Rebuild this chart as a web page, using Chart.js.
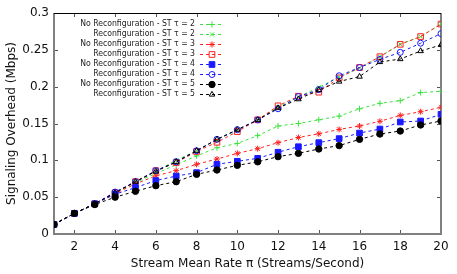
<!DOCTYPE html>
<html>
<head>
<meta charset="utf-8">
<script src="https://cdn.jsdelivr.net/npm/chart.js@4/dist/chart.umd.min.js"></script>
<style>
  html, body { margin: 0; padding: 0; background: #fff; }
  #wrap { width: 457px; height: 274px; }
</style>
</head>
<body>
<div id="wrap"><canvas id="overheadChart"></canvas></div>
<script>
const rates = [1, 2, 3, 4, 5, 6, 7, 8, 9, 10, 11, 12, 13, 14, 15, 16, 17, 18, 19, 20];
const xTicks = [2, 4, 6, 8, 10, 12, 14, 16, 18, 20];
const yTicks = [0, 0.05, 0.1, 0.15, 0.2, 0.25, 0.3];

const noReconSt2 = [0.013, 0.028, 0.041, 0.056, 0.070, 0.082, 0.094, 0.106, 0.117, 0.123, 0.1335, 0.1466, 0.150, 0.155, 0.160, 0.170, 0.1774, 0.181, 0.192, 0.1937];
const reconSt2 = [0.013, 0.028, 0.041, 0.056, 0.071, 0.085, 0.100, 0.113, 0.128, 0.141, 0.155, 0.172, 0.186, 0.199, 0.213, 0.225, 0.2407, 0.2575, 0.268, 0.285];
const noReconSt3 = [0.013, 0.028, 0.041, 0.055, 0.068, 0.079, 0.086, 0.0946, 0.1018, 0.1095, 0.1158, 0.124, 0.131, 0.136, 0.142, 0.1466, 0.153, 0.161, 0.166, 0.172];
const reconSt3 = [0.013, 0.028, 0.041, 0.056, 0.071, 0.086, 0.097, 0.112, 0.1245, 0.139, 0.155, 0.174, 0.187, 0.1925, 0.212, 0.226, 0.2407, 0.2575, 0.268, 0.285];
const noReconSt4 = [0.013, 0.028, 0.041, 0.054, 0.063, 0.0725, 0.0787, 0.0833, 0.0946, 0.0987, 0.1027, 0.111, 0.1185, 0.124, 0.1295, 0.137, 0.1425, 0.152, 0.1534, 0.1625];
const reconSt4 = [0.013, 0.028, 0.041, 0.057, 0.071, 0.086, 0.098, 0.113, 0.1285, 0.1416, 0.1548, 0.170, 0.1865, 0.196, 0.2148, 0.226, 0.237, 0.2466, 0.259, 0.272];
const noReconSt5 = [0.013, 0.028, 0.040, 0.050, 0.058, 0.0656, 0.071, 0.081, 0.0869, 0.0932, 0.098, 0.105, 0.1095, 0.1154, 0.120, 0.1285, 0.1357, 0.1398, 0.148, 0.1534];
const reconSt5 = [0.013, 0.028, 0.041, 0.056, 0.071, 0.085, 0.098, 0.113, 0.1285, 0.1416, 0.1548, 0.171, 0.183, 0.1955, 0.207, 0.2137, 0.2335, 0.2375, 0.2484, 0.2566];

const GREEN = '#3de23d', RED = '#ff2020', BLUE = '#1a1aff', BLACK = '#000000';

function series(label, values, color, style, filled, radius) {
    return {
        label: label,
        data: values.map((v, i) => ({ x: rates[i], y: v })),
        borderColor: color,
        backgroundColor: color,
        borderWidth: 1,
        borderDash: [3, 3],
        pointStyle: style,
        pointRadius: radius,
        pointBorderWidth: 1,
        pointBorderColor: color,
        pointBackgroundColor: filled ? color : 'rgba(0,0,0,0)',
        tension: 0,
        fill: false
    };
}

const datasets = [
    series('No Reconfiguration - ST τ = 2', noReconSt2, GREEN, 'cross', false, 3),
    series('Reconfiguration - ST τ = 2', reconSt2, GREEN, 'crossRot', false, 3),
    series('No Reconfiguration - ST τ = 3', noReconSt3, RED, 'star', false, 3),
    series('Reconfiguration - ST τ = 3', reconSt3, RED, 'rect', false, 4),
    series('No Reconfiguration - ST τ = 4', noReconSt4, BLUE, 'rect', true, 4),
    series('Reconfiguration - ST τ = 4', reconSt4, BLUE, 'circle', false, 3),
    series('No Reconfiguration - ST τ = 5', noReconSt5, BLACK, 'circle', true, 3.2),
    series('Reconfiguration - ST τ = 5', reconSt5, BLACK, 'triangle', false, 3.2)
];
// later series on top, like gnuplot
datasets.forEach((d, i) => { d.order = datasets.length - i; });

// gnuplot style border with inward ticks on all four sides
const framePlugin = {
    id: 'frame',
    beforeDatasetsDraw(chart) {
        const { ctx, chartArea: a, scales } = chart;
        const tl = 4;
        ctx.save();
        ctx.strokeStyle = '#555';
        ctx.lineWidth = 1;
        ctx.beginPath();
        xTicks.forEach(t => {
            const px = Math.round(scales.x.getPixelForValue(t)) + 0.5;
            ctx.moveTo(px, a.bottom); ctx.lineTo(px, a.bottom - tl);
            ctx.moveTo(px, a.top); ctx.lineTo(px, a.top + tl);
        });
        yTicks.forEach(t => {
            const py = Math.round(scales.y.getPixelForValue(t)) + 0.5;
            ctx.moveTo(a.left, py); ctx.lineTo(a.left + tl, py);
            ctx.moveTo(a.right, py); ctx.lineTo(a.right - tl, py);
        });
        ctx.stroke();
        ctx.strokeStyle = '#808080';
        ctx.lineWidth = 2;
        ctx.beginPath();
        ctx.moveTo(a.left, a.top);
        ctx.lineTo(a.left, a.bottom);
        ctx.lineTo(a.right, a.bottom);
        ctx.lineTo(a.right, a.top);
        ctx.stroke();
        ctx.strokeStyle = '#000';
        ctx.lineWidth = 1;
        ctx.beginPath();
        ctx.moveTo(a.left, Math.round(a.top) + 0.5);
        ctx.lineTo(a.right, Math.round(a.top) + 0.5);
        ctx.stroke();
        ctx.restore();
    }
};

// key in the top-left corner: text right aligned, sample on the right
const keyPlugin = {
    id: 'gpKey',
    afterDraw(chart) {
        const { ctx } = chart;
        const textRight = 195, x0 = 200, x1 = 224, top = 24, step = 10;
        ctx.save();
        ctx.font = '8.6px "DejaVu Sans Condensed", "DejaVu Sans", sans-serif';
        ctx.textAlign = 'right';
        ctx.textBaseline = 'middle';
        chart.data.datasets.forEach((d, i) => {
            const y = top + i * step;
            ctx.fillStyle = '#222';
            ctx.fillText(d.label, textRight, y);
            ctx.strokeStyle = d.borderColor;
            ctx.lineWidth = 1;
            ctx.setLineDash([3, 3]);
            ctx.beginPath();
            ctx.moveTo(x0, y + 0.5);
            ctx.lineTo(x1, y + 0.5);
            ctx.stroke();
            ctx.setLineDash([]);
            ctx.fillStyle = d.pointBackgroundColor;
            Chart.helpers.drawPoint(ctx, {
                pointStyle: d.pointStyle,
                radius: d.pointRadius,
                borderWidth: 1,
                rotation: 0
            }, (x0 + x1) / 2, y + 0.5);
        });
        ctx.restore();
    }
};

const ctx = document.getElementById('overheadChart').getContext('2d');
new Chart(ctx, {
    type: 'line',
    data: { datasets: datasets },
    options: {
        responsive: true,
        maintainAspectRatio: false,
        animation: false,
        layout: { padding: { top: 13, right: 16, left: 0, bottom: 0 } },
        plugins: {
            legend: { display: false },
            tooltip: { enabled: false }
        },
        scales: {
            x: {
                type: 'linear',
                min: 1,
                max: 20,
                afterBuildTicks: s => { s.ticks = xTicks.map(v => ({ value: v })); },
                afterFit: s => { s.height = 40; },
                grid: { display: false, drawTicks: false },
                border: { display: false },
                ticks: {
                    padding: 6,
                    color: '#111',
                    font: { family: '"DejaVu Sans", sans-serif', size: 12 },
                    maxRotation: 0
                },
                title: {
                    display: true,
                    text: 'Stream Mean Rate π (Streams/Second)',
                    color: '#111',
                    font: { family: '"DejaVu Sans", sans-serif', size: 12 },
                    padding: { top: 0, bottom: 3 }
                }
            },
            y: {
                min: 0,
                max: 0.3,
                afterBuildTicks: s => { s.ticks = yTicks.map(v => ({ value: v })); },
                afterFit: s => { s.width = 54; },
                grid: { display: false, drawTicks: false },
                border: { display: false },
                ticks: {
                    padding: 5,
                    color: '#111',
                    font: { family: '"DejaVu Sans", sans-serif', size: 12 },
                    callback: v => String(Math.round(v * 100) / 100)
                },
                title: {
                    display: true,
                    text: 'Signaling Overhead (Mbps)',
                    color: '#111',
                    font: { family: '"DejaVu Sans", sans-serif', size: 12 },
                    padding: { top: 5, bottom: 0 }
                }
            }
        }
    },
    plugins: [framePlugin, keyPlugin]
});
</script>
</body>
</html>
